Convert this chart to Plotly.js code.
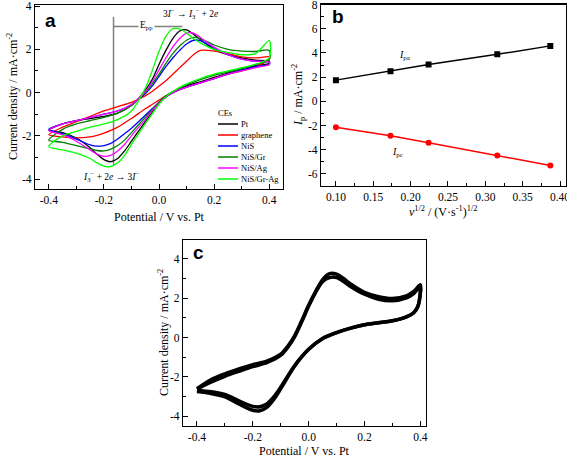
<!DOCTYPE html>
<html><head><meta charset="utf-8">
<script src="https://cdn.plot.ly/plotly-3.0.1.min.js"></script>
<style>html,body{margin:0;padding:0;background:#fff}#chart{width:567px;height:459px}</style>
</head><body><div id="chart"></div>
<script>
// ---------- Panel a: CVs of the different counter electrodes ----------
const potFwd = [-0.4,-0.35,-0.3,-0.25,-0.2,-0.15,-0.1,-0.05,-0.025,0,0.025,0.05,0.075,0.1,0.125,0.15,0.2,0.25,0.3,0.35,0.4];
const potRev = [0.4,0.35,0.3,0.25,0.2,0.15,0.1,0.05,0.025,0,-0.025,-0.05,-0.1,-0.125,-0.15,-0.175,-0.2,-0.225,-0.25,-0.3,-0.35,-0.4];
const ceNames = ["Pt","graphene","NiS","NiS/Gr","NiS/Ag","NiS/Gr-Ag"];
const ceColors = ["#000000","#ff0000","#0000ff","#007f00","#ff00ff","#00ff00"];
const ptFwd = [-1.75,-1.45,-1.3,-1.2,-1.1,-0.95,-0.6,0.1,0.6,1.3,1.95,2.5,2.85,2.9,2.7,2.45,2.0,1.75,1.6,1.5,1.45];
const ptRev = [1.35,1.25,1.1,0.9,0.7,0.5,0.3,0.0,-0.2,-0.5,-0.9,-1.35,-2.25,-2.7,-3.05,-3.2,-3.1,-2.85,-2.55,-2.1,-1.85,-1.75];
const grFwd = [-1.95,-1.6,-1.35,-1.1,-0.85,-0.65,-0.45,-0.15,0.05,0.3,0.55,0.85,1.15,1.45,1.75,1.95,1.92,1.8,1.65,1.6,1.65];
const grRev = [1.55,1.2,1.0,0.85,0.65,0.45,0.25,0.0,-0.15,-0.35,-0.55,-0.75,-1.2,-1.4,-1.6,-1.75,-1.88,-1.98,-2.05,-2.1,-2.05,-1.95];
const nisFwd = [-1.7,-1.45,-1.3,-1.15,-1.0,-0.85,-0.55,-0.05,0.3,0.75,1.2,1.6,1.95,2.25,2.42,2.4,2.05,1.75,1.55,1.45,1.4];
const nisRev = [1.3,1.2,1.05,0.85,0.65,0.45,0.25,0.0,-0.2,-0.45,-0.75,-1.05,-1.65,-1.9,-2.15,-2.35,-2.45,-2.48,-2.42,-2.15,-1.9,-1.7];
const nisGrFwd = [-2.2,-1.7,-1.45,-1.3,-1.15,-0.95,-0.6,0.0,0.4,0.85,1.35,1.8,2.15,2.42,2.55,2.5,2.2,2.0,1.92,1.9,1.95];
const nisGrRev = [1.5,1.3,1.1,0.95,0.8,0.6,0.35,0.05,-0.15,-0.45,-0.8,-1.15,-1.85,-2.2,-2.45,-2.62,-2.7,-2.68,-2.6,-2.45,-2.3,-2.2];
const nisAgFwd = [-1.75,-1.45,-1.3,-1.15,-1.0,-0.85,-0.55,0.05,0.5,1.05,1.6,2.1,2.5,2.75,2.75,2.55,2.1,1.75,1.55,1.45,1.4];
const nisAgRev = [1.3,1.15,1.0,0.85,0.65,0.45,0.25,0.0,-0.2,-0.5,-0.85,-1.25,-2.0,-2.4,-2.7,-2.9,-2.95,-2.85,-2.65,-2.25,-1.95,-1.75];
const nisGrAgFwd = [-2.5,-2.0,-1.8,-1.6,-1.45,-1.25,-0.85,0.2,1.0,1.9,2.6,2.95,2.95,2.75,2.5,2.3,2.0,1.85,1.75,1.8,2.4];
const nisGrAgRev = [1.6,1.3,1.15,1.0,0.85,0.65,0.4,0.05,-0.2,-0.55,-1.0,-1.45,-2.4,-2.9,-3.25,-3.42,-3.4,-3.25,-3.05,-2.8,-2.65,-2.5];
const guideVx = [-0.165,-0.165], guideVy = [3.5,-3.35];
const guideHx = [-0.165,0.085], guideHy = [3.05,3.05];

// ---------- Panel b: peak current vs sqrt(scan rate) ----------
const sqrtScan = [0.1,0.173,0.224,0.316,0.387];
const ipa = [1.75,2.48,3.05,3.88,4.58];
const ipc = [-2.15,-2.85,-3.42,-4.48,-5.3];

// ---------- Panel c: repeated cycling of NiS/Gr-Ag ----------
const cvFwd = [-0.4,-0.35,-0.3,-0.25,-0.2,-0.15,-0.1,-0.075,-0.05,-0.025,0,0.025,0.05,0.075,0.1,0.125,0.15,0.2,0.25,0.3,0.35,0.375,0.4];
const cvRev = [0.4,0.39,0.375,0.35,0.3,0.25,0.2,0.15,0.1,0.05,0,-0.05,-0.1,-0.125,-0.15,-0.175,-0.2,-0.25,-0.3,-0.35,-0.4];
const outerFwd = [-2.6,-2.15,-1.85,-1.6,-1.38,-1.2,-0.85,-0.45,0.1,0.85,1.65,2.35,2.95,3.25,3.22,3.0,2.72,2.3,2.07,1.98,2.12,2.33,2.68];
const outerRev = [2.3,1.55,1.25,1.05,0.85,0.75,0.65,0.48,0.25,-0.05,-0.6,-1.45,-2.6,-3.15,-3.55,-3.72,-3.7,-3.38,-3.02,-2.85,-2.75];
const innerFwd = [-2.62,-2.27,-1.97,-1.72,-1.48,-1.28,-0.9,-0.5,0.05,0.8,1.6,2.3,2.85,3.05,3.05,2.85,2.6,2.2,1.95,1.87,2.02,2.22,2.58];
const innerRev = [2.3,1.55,1.25,1.05,0.85,0.75,0.65,0.48,0.25,-0.05,-0.6,-1.42,-2.52,-3.02,-3.38,-3.52,-3.5,-3.22,-2.9,-2.76,-2.68];

// tick values
const aXticks = [-0.4,-0.2,0.0,0.2,0.4];
const aYticks = [-4,-2,0,2,4];
const bXticks = [0.10,0.15,0.20,0.25,0.30,0.35,0.40];
const bYticks = [-6,-4,-2,0,2,4,6,8];
const cXticks = [-0.4,-0.2,0.0,0.2,0.4];
const cYticks = [-4,-2,0,2,4];

// ---------- helpers ----------
const W = 567, H = 459;
const px = v => v / W, py = v => 1 - v / H;
const SERIF = '"Liberation Serif", "Times New Roman", serif';
const SANS = '"Liberation Sans", Arial, sans-serif';
function fmt(arr, d){ return arr.map(v => v.toFixed(d)); }
function axis(domain, range, tv, tt, anchor, minorDtick){
  return {domain: domain, range: range, anchor: anchor, tickmode: "array", tickvals: tv, ticktext: tt,
    ticks: "inside", ticklen: 5, tickwidth: 1, tickcolor: "#000", showline: true, linecolor: "#000", linewidth: 1.2,
    mirror: true, showgrid: false, zeroline: false, ticklabeloverflow: "allow",
    tickfont: {family: SERIF, size: 11.5, color: "#000"}, fixedrange: true,
    minor: {ticks: "inside", ticklen: 3, tickwidth: 1, tickcolor: "#000", dtick: minorDtick, showgrid: false}};
}

const traces = [];
const aFwd = [ptFwd, grFwd, nisFwd, nisGrFwd, nisAgFwd, nisGrAgFwd];
const aRev = [ptRev, grRev, nisRev, nisGrRev, nisAgRev, nisGrAgRev];
traces.push({x: guideVx, y: guideVy, xaxis: "x", yaxis: "y", mode: "lines", line: {color: "#808080", width: 1.5}, showlegend: false, hoverinfo: "skip"});
traces.push({x: guideHx, y: guideHy, xaxis: "x", yaxis: "y", mode: "lines", line: {color: "#808080", width: 1.5}, showlegend: false, hoverinfo: "skip"});
for (let i = 0; i < ceNames.length; i++) {
  traces.push({x: potFwd.concat(potRev), y: aFwd[i].concat(aRev[i]), name: ceNames[i], xaxis: "x", yaxis: "y",
    mode: "lines", line: {color: ceColors[i], width: 1.3, shape: "spline", smoothing: 0.8}, showlegend: false});
}
traces.push({x: sqrtScan, y: ipa, xaxis: "x2", yaxis: "y2", mode: "lines+markers", name: "Ipa",
  line: {color: "#000", width: 1.5}, marker: {symbol: "square", size: 6, color: "#000"}, showlegend: false});
traces.push({x: sqrtScan, y: ipc, xaxis: "x2", yaxis: "y2", mode: "lines+markers", name: "Ipc",
  line: {color: "#ff0000", width: 1.5}, marker: {symbol: "circle", size: 6, color: "#ff0000"}, showlegend: false});
traces.push({x: cvFwd.concat(cvRev), y: outerFwd.concat(outerRev), xaxis: "x3", yaxis: "y3", mode: "lines",
  line: {color: "#000", width: 3.5, shape: "spline", smoothing: 0.8}, showlegend: false});
traces.push({x: cvFwd.concat(cvRev), y: innerFwd.concat(innerRev), xaxis: "x3", yaxis: "y3", mode: "lines",
  line: {color: "#000", width: 3.5, shape: "spline", smoothing: 0.8}, showlegend: false});

const ann = [];
function A(text, x, y, size, extra){ ann.push(Object.assign({text: text, x: px(x), y: py(y), xref: "paper", yref: "paper",
  showarrow: false, xanchor: "center", yanchor: "middle", font: {family: SERIF, size: size, color: "#000"}}, extra || {})); }
// panel labels
A("<b>a</b>", 50, 20, 19, {font: {family: SANS, size: 19, color: "#000"}});
A("<b>b</b>", 338, 17, 19, {font: {family: SANS, size: 19, color: "#000"}});
A("<b>c</b>", 198, 252, 19, {font: {family: SANS, size: 19, color: "#000"}});
// axis titles
A("Potential / V vs. Pt", 159, 217, 12);
A("Current density / mA·cm<sup>-2</sup>", 12, 97, 12, {textangle: -90});
A("<i>ν</i><sup>1/2</sup> / (V·s<sup>-1</sup>)<sup>1/2</sup>", 443, 211, 12);
A("<i>I</i><sub>p</sub> / mA·cm<sup>-2</sup>", 298, 95, 12, {textangle: -90});
A("Potential / V vs. Pt", 304, 451, 12);
A("Current density / mA·cm<sup>-2</sup>", 163, 333, 12, {textangle: -90});
// reaction labels
A("3<i>I</i><sup>−</sup> → <i>I</i><sub>3</sub><sup>−</sup> + 2<i>e</i>", 190, 14, 9.5);
A("<i>I</i><sub>3</sub><sup>−</sup> + 2<i>e</i> → 3<i>I</i><sup>−</sup>", 111, 176, 9.5);
A("E<sub>pp</sub>", 146, 26, 9.5, {bgcolor: "#fff"});
A("<i>I</i><sub>pa</sub>", 405, 56, 10);
A("<i>I</i><sub>pc</sub>", 397, 152, 10);
// custom legend
A("CEs", 216, 113, 8.5, {xanchor: "left"});
const shapes = [];
for (let i = 0; i < ceNames.length; i++) {
  const yy = 124 + 11 * i;
  shapes.push({type: "line", xref: "paper", yref: "paper", x0: px(218), x1: px(238), y0: py(yy), y1: py(yy),
    line: {color: ceColors[i], width: 1.5}});
  A(ceNames[i], 239, yy, 8.5, {xanchor: "left"});
}

const layout = {
  width: W, height: H, margin: {l: 0, r: 0, t: 0, b: 0}, paper_bgcolor: "#fff", plot_bgcolor: "rgba(0,0,0,0)",
  showlegend: false, font: {family: SERIF, color: "#000", size: 11.5},
  xaxis: axis([px(35), px(283)], [-0.45, 0.45], aXticks, fmt(aXticks, 1), "y", 0.1),
  yaxis: axis([py(189), py(5)], [-4.46, 4.05], aYticks, fmt(aYticks, 0), "x", 1),
  xaxis2: axis([px(321), px(566)], [0.08, 0.408], bXticks, fmt(bXticks, 2), "y2", 0.025),
  yaxis2: axis([py(186), py(4.5)], [-7, 8], bYticks, fmt(bYticks, 0), "x2", 1),
  xaxis3: axis([px(183), px(426)], [-0.45, 0.42], cXticks, fmt(cXticks, 1), "y3", 0.1),
  yaxis3: axis([py(426), py(240)], [-4.5, 4.96], cYticks, fmt(cYticks, 0), "x3", 1),
  annotations: ann, shapes: shapes
};
Plotly.newPlot("chart", traces, layout, {displayModeBar: false, staticPlot: true});
</script>
</body></html>
